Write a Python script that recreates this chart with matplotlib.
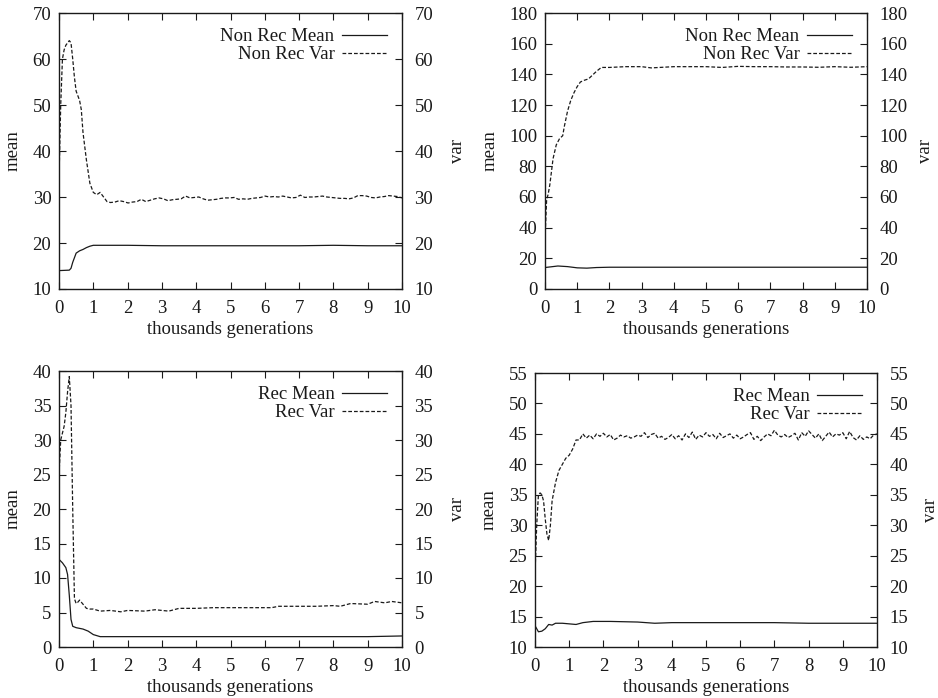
import numpy as np
import matplotlib
matplotlib.use("Agg")
import matplotlib.pyplot as plt

plt.rcParams['font.family'] = ['Liberation Serif', 'DejaVu Serif']
FS = 13.5
plt.rcParams['font.size'] = FS

# ---------------- data (x in thousands generations) ----------------
# Panel 1: Non Rec (range 10-70)
p1_var_x_head = [0.0, 0.05, 0.1, 0.15, 0.2, 0.3, 0.35, 0.4, 0.45, 0.5, 0.6, 0.65, 0.7, 0.8, 0.9, 1.0, 1.1, 1.2, 1.3, 1.4]
p1_var_y_head = [34, 50, 60, 62, 63, 64, 63.5, 60, 56, 53, 51, 49, 44, 38, 33, 31, 30.5, 31, 30, 29]
p1_var_tail = [28.8, 28.9, 29.2, 29.0, 28.7, 28.9, 29.0, 29.5, 29.0, 29.3, 29.6, 29.8, 29.6, 29.2, 29.4,
               29.5, 29.6, 30.2, 29.8, 29.9, 30.0, 29.6, 29.3, 29.4, 29.5, 29.7, 29.8, 29.8, 29.9, 29.5,
               29.6, 29.5, 29.7, 29.8, 29.9, 30.2, 30.0, 30.1, 30.0, 30.2, 30.0, 29.8, 29.9, 30.4, 29.9,
               30.0, 30.0, 30.1, 30.2, 30.0, 29.9, 29.8, 29.7, 29.7, 29.6, 29.8, 30.3, 30.3, 30.2, 29.9,
               29.8, 30.0, 30.1, 30.3, 30.2, 30.1, 29.8]
p1_mean_x = [0.0, 0.3, 0.35, 0.4, 0.5, 0.6, 0.7, 0.8, 0.9, 1.0, 2.0, 3.0, 4.0, 5.0, 6.0, 7.0, 8.0, 9.0, 10.0]
p1_mean_y = [14.0, 14.1, 14.5, 15.8, 17.8, 18.3, 18.6, 19.0, 19.3, 19.5, 19.5, 19.4, 19.4, 19.4, 19.4, 19.4, 19.5, 19.4, 19.4]

# Panel 2: Non Rec (range 0-180)
p2_var_x = [0.0, 0.05, 0.1, 0.15, 0.25, 0.35, 0.45, 0.55, 0.6, 0.7, 0.8, 0.9, 1.0, 1.1, 1.2, 1.35, 1.45, 1.6, 1.75,
            2.0, 2.5, 3.0, 3.3, 4.0, 4.5, 5.0, 5.5, 6.0, 6.5, 7.0, 7.5, 8.0, 8.5, 9.0, 9.5, 10.0]
p2_var_y = [33, 58, 62, 68, 85, 94, 98, 100, 106, 116, 123, 128, 132, 135, 136, 137, 139, 142, 144.5,
            144.5, 145, 145, 144.2, 145, 145, 145, 144.5, 145.2, 145, 145, 144.8, 144.8, 144.6, 145, 144.6, 145]
p2_mean_x = [0.0, 0.2, 0.4, 0.7, 1.0, 1.3, 1.6, 2.0, 4.0, 6.0, 8.0, 10.0]
p2_mean_y = [14.0, 14.5, 15.0, 14.6, 13.8, 13.6, 14.0, 14.2, 14.2, 14.2, 14.2, 14.2]

# Panel 3: Rec (range 0-40)
p3_var_x = [0.0, 0.05, 0.1, 0.15, 0.2, 0.25, 0.3, 0.35, 0.4, 0.45, 0.5, 0.55, 0.6, 0.7, 0.8, 0.9, 1.0, 1.2, 1.5,
            1.8, 2.0, 2.5, 2.8, 3.2, 3.5, 4.0, 4.5, 5.0, 5.5, 6.2, 6.4, 7.0, 7.5, 8.0, 8.2, 8.5, 9.0, 9.2, 9.5, 9.7, 10.0]
p3_var_y = [25, 30, 31, 32, 34, 37, 39.2, 35, 20, 7, 6.3, 6.5, 6.8, 6.2, 5.6, 5.5, 5.5, 5.2, 5.3,
            5.1, 5.3, 5.2, 5.4, 5.2, 5.6, 5.6, 5.7, 5.7, 5.7, 5.7, 5.9, 5.9, 5.9, 6.0, 5.9, 6.3, 6.2, 6.6, 6.4, 6.6, 6.4]
p3_mean_x = [0.0, 0.1, 0.2, 0.25, 0.3, 0.35, 0.4, 0.5, 0.7, 0.85, 1.0, 1.2, 2.0, 5.0, 8.0, 9.0, 10.0]
p3_mean_y = [12.7, 12.2, 11.5, 10.5, 7.5, 4.0, 3.0, 2.8, 2.6, 2.3, 1.8, 1.5, 1.5, 1.5, 1.5, 1.5, 1.6]

# Panel 4: Rec (range 10-55)
p4_var_x_head = [0.0, 0.05, 0.1, 0.15, 0.2, 0.25, 0.3, 0.35, 0.4, 0.45, 0.5, 0.6, 0.7, 0.8, 0.9, 1.0, 1.1, 1.2, 1.3, 1.4, 1.5]
p4_var_y_head = [22, 30, 35, 35.3, 35, 34, 31, 28.5, 27.5, 30, 34, 37, 39, 40, 41, 41.5, 42.5, 44, 44, 45, 44.3]
p4_var_tail = [44.8, 44.2, 45.0, 44.6, 45.1, 44.5, 44.9, 44.0, 44.3, 44.8, 44.5, 44.7, 44.3, 44.5, 44.8,
               44.6, 45.2, 44.4, 44.9, 45.1, 44.3, 44.6, 44.1, 44.4, 44.9, 44.2, 44.7, 44.0, 45.0, 44.4,
               45.3, 44.1, 44.8, 44.5, 45.2, 44.6, 44.9, 44.2, 45.1, 44.4, 44.7, 45.0, 44.3, 44.8, 44.2,
               44.5, 44.9, 45.2, 44.1, 44.6, 43.9, 44.5, 45.0, 44.7, 45.6, 44.8, 44.5, 44.9, 44.4, 44.7,
               45.1, 44.0, 45.2, 44.6, 45.5, 44.9, 44.3, 45.0, 43.9, 44.6, 45.3, 44.5, 45.0, 44.8, 45.2,
               44.2, 45.4, 44.4, 44.0, 44.7, 44.1, 44.5, 44.2, 44.8, 45.0]
p4_mean_x = [0.0, 0.1, 0.2, 0.3, 0.4, 0.5, 0.6, 0.8, 1.0, 1.2, 1.4, 1.7, 2.2, 3.0, 3.5, 4.0, 5.0, 6.0, 7.0, 8.0, 9.0, 10.0]
p4_mean_y = [13.5, 12.5, 12.6, 13.0, 13.7, 13.6, 13.9, 13.9, 13.8, 13.7, 14.0, 14.2, 14.2, 14.1, 13.9, 14.0, 14.0, 14.0, 14.0, 13.9, 13.9, 13.9]

xticks = [0, 1, 2, 3, 4, 5, 6, 7, 8, 9, 10]
p1_yticks = [10, 20, 30, 40, 50, 60, 70]
p2_yticks = [0, 20, 40, 60, 80, 100, 120, 140, 160, 180]
p3_yticks = [0, 5, 10, 15, 20, 25, 30, 35, 40]
p4_yticks = [10, 15, 20, 25, 30, 35, 40, 45, 50, 55]

p1_var_x = p1_var_x_head + list(np.linspace(1.5, 10.0, len(p1_var_tail)))
p1_var_y = p1_var_y_head + p1_var_tail
p4_var_x = p4_var_x_head + list(np.linspace(1.6, 10.0, len(p4_var_tail)))
p4_var_y = p4_var_y_head + p4_var_tail

# ---------------- figure ----------------
W, H = 938, 698
fig = plt.figure(figsize=(W / 100, H / 100), dpi=100)

def rect(l, t, r, b):
    return [l / W, 1 - b / H, (r - l) / W, (b - t) / H]

panels = [
    (rect(59, 13, 402, 289), p1_mean_x, p1_mean_y, p1_var_x, p1_var_y, p1_yticks, "Non Rec Mean", "Non Rec Var", 11),
    (rect(545, 13, 867, 289), p2_mean_x, p2_mean_y, p2_var_x, p2_var_y, p2_yticks, "Non Rec Mean", "Non Rec Var", 7),
    (rect(59, 371, 402, 647), p3_mean_x, p3_mean_y, p3_var_x, p3_var_y, p3_yticks, "Rec Mean", "Rec Var", 11),
    (rect(535, 373, 877, 647), p4_mean_x, p4_mean_y, p4_var_x, p4_var_y, p4_yticks, "Rec Mean", "Rec Var", 10),
]

col = "#1a1a1a"
for r, mx, my, vx, vy, yt, lm, lv, vpad in panels:
    ax = fig.add_axes(r)
    ax.plot(mx, my, color=col, lw=0.9, label=lm)
    ax.plot(vx, vy, color=col, lw=0.9, dashes=(3, 1.6), label=lv)
    ax.set_xlim(0, 10)
    ax.set_ylim(yt[0], yt[-1])
    ax.set_xticks(xticks)
    ax.set_yticks(yt)
    ax.tick_params(axis="x", direction="in", length=5, width=0.8, top=True, colors=col, labelsize=FS, pad=8)
    ax.tick_params(axis="y", direction="in", length=5, width=0.8, right=False, colors=col, labelsize=FS, pad=5.5)
    for s in ax.spines.values():
        s.set_linewidth(1.0)
        s.set_color(col)
    ax.set_xlabel("thousands generations", color=col, labelpad=3)
    ax.set_ylabel("mean", color=col, labelpad=8)
    ax2 = ax.twinx()
    ax2.set_ylim(yt[0], yt[-1])
    ax2.set_yticks(yt)
    ax2.tick_params(direction="in", length=5, width=0.8, colors=col, labelsize=FS, pad=9)
    for s in ax2.spines.values():
        s.set_visible(False)
    ax2.set_ylabel("var", color=col, labelpad=vpad)
    leg = ax.legend(loc="upper right", frameon=False, markerfirst=False, handlelength=2.4,
                    handletextpad=0.4, labelspacing=0.05, borderaxespad=0.4, fontsize=FS)
    for t in leg.get_texts():
        t.set_color(col)
        t.set_ha("right")

fig.savefig("out.png", dpi=100)
